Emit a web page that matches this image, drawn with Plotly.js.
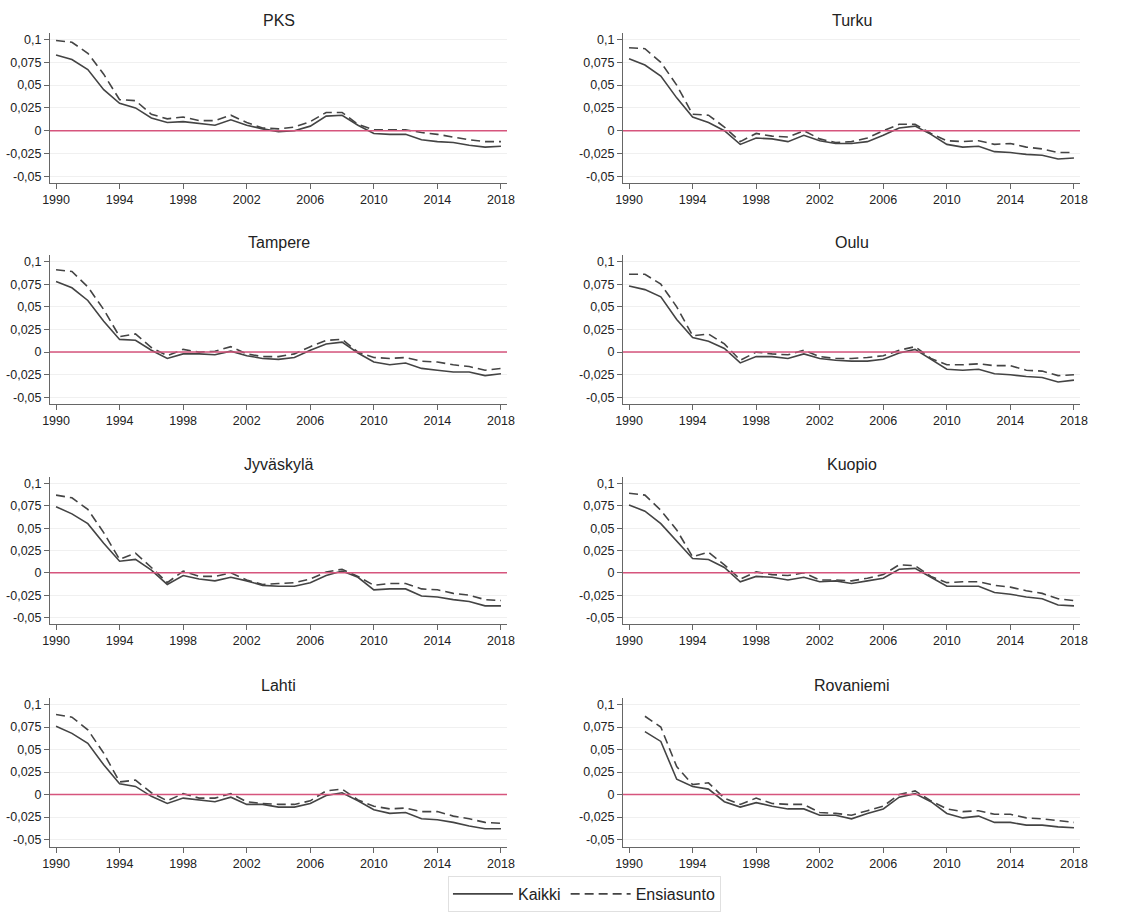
<!DOCTYPE html>
<html>
<head>
<meta charset="utf-8">
<script src="https://cdn.plot.ly/plotly-3.0.1.min.js"></script>
<style>html,body{margin:0;padding:0;background:#fff;}#chart{width:1146px;height:912px;}</style>
</head>
<body>
<div id="chart"></div>
<script>
const years = [1990,1991,1992,1993,1994,1995,1996,1997,1998,1999,2000,2001,2002,2003,2004,2005,2006,2007,2008,2009,2010,2011,2012,2013,2014,2015,2016,2017,2018];
const cities = ["PKS","Turku","Tampere","Oulu","Jyväskylä","Kuopio","Lahti","Rovaniemi"];
const seriesNames = ["Kaikki","Ensiasunto"];
const xTickVals = [1990,1994,1998,2002,2006,2010,2014,2018];
const yTickVals = [0.1,0.075,0.05,0.025,0,-0.025,-0.05];
const yTickText = ["0,1","0,075","0,05","0,025","0","-0,025","-0,05"];

const pksKaikki = [0.083,0.078,0.067,0.045,0.030,0.025,0.014,0.009,0.010,0.008,0.006,0.012,0.006,0.002,-0.001,0.000,0.005,0.016,0.017,0.006,-0.003,-0.004,-0.004,-0.010,-0.012,-0.013,-0.016,-0.018,-0.017];
const pksEnsi = [0.099,0.097,0.085,0.062,0.034,0.033,0.018,0.013,0.015,0.011,0.011,0.017,0.009,0.003,0.002,0.004,0.010,0.020,0.020,0.007,0.001,0.001,0.001,-0.002,-0.004,-0.007,-0.010,-0.012,-0.012];
const turkuKaikki = [0.079,0.072,0.060,0.036,0.015,0.009,0.000,-0.015,-0.008,-0.009,-0.012,-0.005,-0.011,-0.014,-0.014,-0.012,-0.005,0.003,0.005,-0.004,-0.015,-0.018,-0.017,-0.023,-0.024,-0.026,-0.027,-0.031,-0.030];
const turkuEnsi = [0.091,0.090,0.075,0.050,0.018,0.017,0.004,-0.012,-0.003,-0.006,-0.007,0.000,-0.009,-0.013,-0.012,-0.008,0.000,0.007,0.007,-0.003,-0.011,-0.012,-0.011,-0.015,-0.014,-0.018,-0.020,-0.024,-0.024];
const tampereKaikki = [0.078,0.071,0.057,0.034,0.014,0.013,0.002,-0.007,-0.002,-0.002,-0.003,0.001,-0.004,-0.007,-0.008,-0.006,0.002,0.009,0.011,-0.001,-0.011,-0.014,-0.012,-0.018,-0.020,-0.022,-0.022,-0.026,-0.024];
const tampereEnsi = [0.091,0.089,0.072,0.047,0.017,0.020,0.005,-0.004,0.003,0.000,0.001,0.006,-0.002,-0.005,-0.005,-0.002,0.006,0.013,0.014,0.000,-0.006,-0.007,-0.006,-0.010,-0.011,-0.014,-0.016,-0.020,-0.018];
const ouluKaikki = [0.073,0.069,0.061,0.036,0.016,0.012,0.004,-0.012,-0.005,-0.005,-0.007,-0.002,-0.007,-0.009,-0.010,-0.010,-0.008,-0.001,0.003,-0.008,-0.019,-0.020,-0.019,-0.024,-0.025,-0.027,-0.028,-0.033,-0.031];
const ouluEnsi = [0.086,0.086,0.075,0.050,0.018,0.020,0.009,-0.009,0.000,-0.002,-0.003,0.002,-0.005,-0.007,-0.007,-0.006,-0.004,0.002,0.006,-0.007,-0.014,-0.014,-0.013,-0.015,-0.015,-0.020,-0.021,-0.026,-0.025];
const jyvaskylaKaikki = [0.074,0.066,0.055,0.033,0.013,0.015,0.003,-0.013,-0.003,-0.007,-0.009,-0.005,-0.009,-0.014,-0.015,-0.015,-0.011,-0.003,0.002,-0.005,-0.019,-0.018,-0.018,-0.026,-0.027,-0.030,-0.032,-0.037,-0.037];
const jyvaskylaEnsi = [0.087,0.084,0.071,0.045,0.015,0.022,0.006,-0.011,0.002,-0.004,-0.004,0.000,-0.008,-0.013,-0.012,-0.011,-0.007,0.001,0.004,-0.004,-0.014,-0.012,-0.012,-0.018,-0.019,-0.023,-0.025,-0.030,-0.031];
const kuopioKaikki = [0.076,0.069,0.055,0.035,0.016,0.015,0.006,-0.010,-0.004,-0.005,-0.008,-0.005,-0.010,-0.009,-0.012,-0.009,-0.006,0.004,0.005,-0.005,-0.015,-0.015,-0.015,-0.022,-0.024,-0.027,-0.029,-0.036,-0.037];
const kuopioEnsi = [0.089,0.087,0.070,0.048,0.018,0.023,0.009,-0.007,0.001,-0.002,-0.003,0.000,-0.008,-0.008,-0.009,-0.006,-0.002,0.009,0.008,-0.004,-0.011,-0.010,-0.010,-0.014,-0.016,-0.020,-0.023,-0.029,-0.031];
const lahtiKaikki = [0.076,0.068,0.057,0.033,0.012,0.009,-0.002,-0.010,-0.004,-0.006,-0.008,-0.003,-0.011,-0.011,-0.014,-0.014,-0.010,-0.001,0.002,-0.007,-0.017,-0.021,-0.020,-0.027,-0.028,-0.031,-0.035,-0.038,-0.038];
const lahtiEnsi = [0.089,0.086,0.072,0.046,0.014,0.016,0.002,-0.007,0.001,-0.004,-0.004,0.001,-0.008,-0.010,-0.011,-0.011,-0.007,0.004,0.006,-0.006,-0.013,-0.016,-0.015,-0.019,-0.019,-0.024,-0.027,-0.031,-0.032];
const rovaniemiKaikki = [null,0.070,0.059,0.017,0.009,0.006,-0.008,-0.014,-0.009,-0.013,-0.016,-0.016,-0.023,-0.023,-0.027,-0.021,-0.016,-0.003,0.001,-0.008,-0.021,-0.026,-0.024,-0.031,-0.031,-0.034,-0.034,-0.036,-0.037];
const rovaniemiEnsi = [null,0.087,0.075,0.031,0.011,0.013,-0.004,-0.011,-0.004,-0.010,-0.011,-0.011,-0.020,-0.021,-0.023,-0.018,-0.013,0.000,0.004,-0.007,-0.016,-0.019,-0.018,-0.022,-0.022,-0.026,-0.027,-0.029,-0.031];

const kaikkiByCity = [pksKaikki,turkuKaikki,tampereKaikki,ouluKaikki,jyvaskylaKaikki,kuopioKaikki,lahtiKaikki,rovaniemiKaikki];
const ensiByCity = [pksEnsi,turkuEnsi,tampereEnsi,ouluEnsi,jyvaskylaEnsi,kuopioEnsi,lahtiEnsi,rovaniemiEnsi];

const W = 1146, H = 912;
const colPx = [[50,507],[623,1080]];
const rowPx = [[33,185],[257,408],[481,630],[704,854]];
const FONT = "Liberation Sans, Arial, sans-serif";
const lineColor = "#444444";

const traces = [];
const layout = {
  width: W, height: H,
  margin: {l:0,r:0,t:0,b:0},
  paper_bgcolor: "#ffffff",
  plot_bgcolor: "#ffffff",
  font: {family: FONT, size: 12, color: "#333"},
  showlegend: true,
  legend: {orientation: "h", x: 0.51, xanchor: "center", y: 0.011, yanchor: "middle",
           bordercolor: "#e0e0e0", borderwidth: 1, font: {size: 16, color: "#222"},
           itemwidth: 60, tracegroupgap: 0},
  shapes: [], annotations: []
};

cities.forEach((city, i) => {
  const r = Math.floor(i/2), c = i % 2;
  const n = i + 1;
  const xa = n === 1 ? "x" : "x" + n;
  const ya = n === 1 ? "y" : "y" + n;
  const xk = n === 1 ? "xaxis" : "xaxis" + n;
  const yk = n === 1 ? "yaxis" : "yaxis" + n;
  const xd = [colPx[c][0]/W, colPx[c][1]/W];
  const yd = [1 - rowPx[r][1]/H, 1 - rowPx[r][0]/H];
  layout[xk] = {domain: xd, anchor: ya, range: [1989.62, 2018.38],
    tickvals: xTickVals, ticktext: xTickVals.map(String), ticks: "outside", ticklen: 5, tickcolor: "#666",
    showline: true, linecolor: "#666", linewidth: 1, showgrid: false, zeroline: false,
    tickfont: {size: 12.5, color: "#222"}, fixedrange: true};
  layout[yk] = {domain: yd, anchor: xa, range: [-0.0578, 0.1075],
    tickvals: yTickVals, ticktext: yTickText, ticks: "outside", ticklen: 5, tickcolor: "#666",
    showline: true, linecolor: "#666", linewidth: 1, showgrid: true, gridcolor: "#f0f0f0", gridwidth: 1,
    zeroline: false, tickfont: {size: 12.5, color: "#222"}, fixedrange: true};
  layout.shapes.push({type: "line", xref: xa + " domain", x0: 0, x1: 1, yref: ya, y0: 0, y1: 0,
    line: {color: "#d6557d", width: 1.5}, layer: "above"});
  layout.annotations.push({text: city, xref: "paper", yref: "paper",
    x: (xd[0]+xd[1])/2, y: yd[1], xanchor: "center", yanchor: "bottom", yshift: 2,
    showarrow: false, font: {size: 16, color: "#222", family: FONT}});
  traces.push({type: "scatter", mode: "lines", x: years, y: kaikkiByCity[i], xaxis: xa, yaxis: ya,
    name: seriesNames[0], legendgroup: "k", showlegend: i === 0, connectgaps: false,
    line: {color: lineColor, width: 1.6}});
  traces.push({type: "scatter", mode: "lines", x: years, y: ensiByCity[i], xaxis: xa, yaxis: ya,
    name: seriesNames[1], legendgroup: "e", showlegend: i === 0, connectgaps: false,
    line: {color: lineColor, width: 1.6, dash: "9px,5px"}});
});

Plotly.newPlot("chart", traces, layout, {displayModeBar: false, staticPlot: true});
</script>
</body>
</html>
